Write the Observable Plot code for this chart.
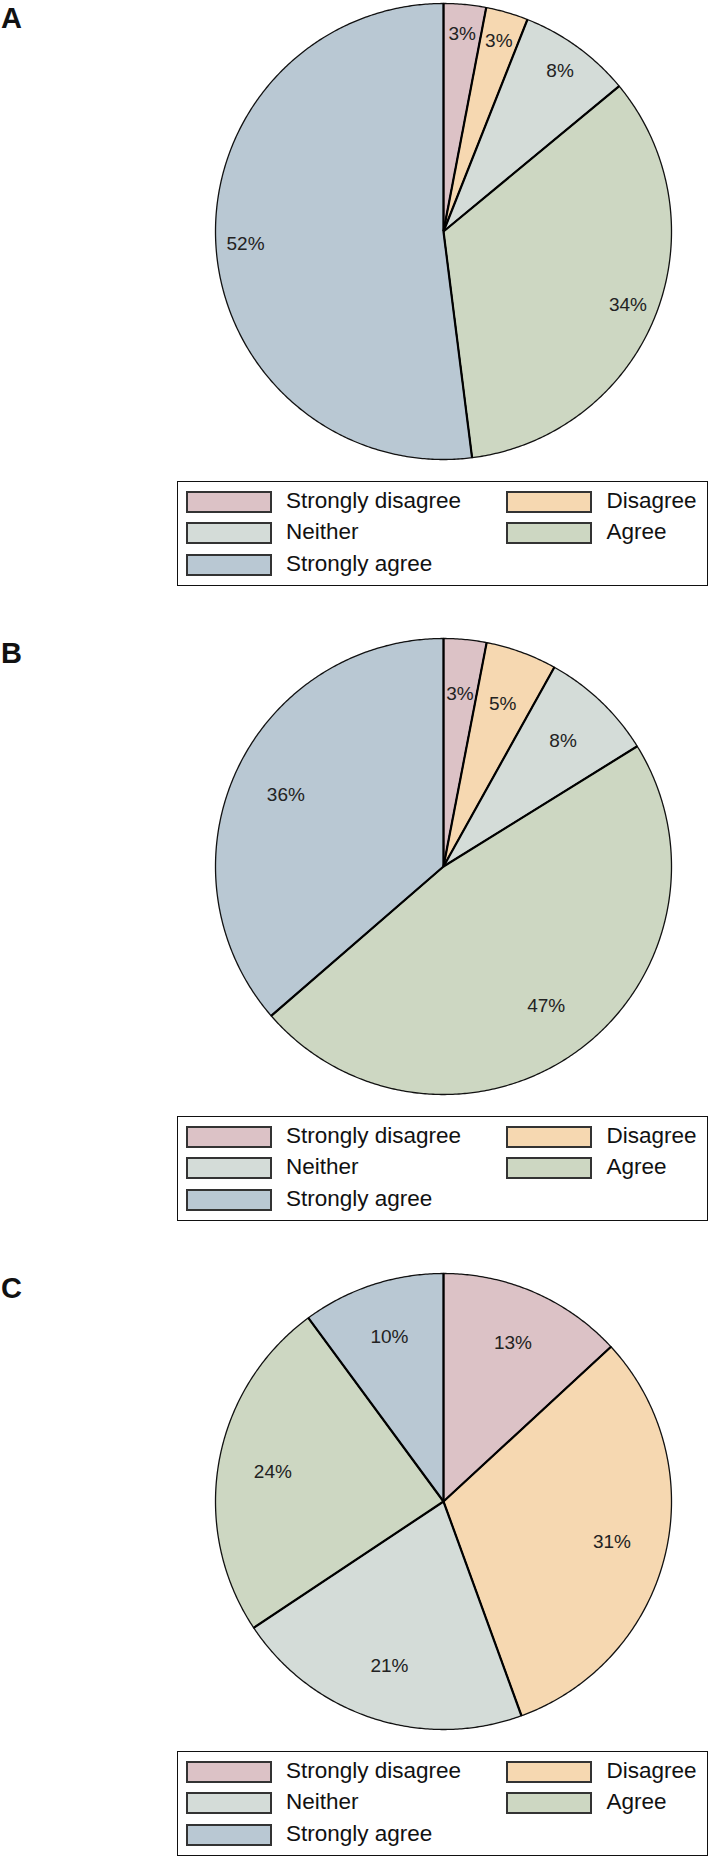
<!DOCTYPE html>
<html><head><meta charset="utf-8">
<script src="https://cdn.jsdelivr.net/npm/d3@7"></script>
<script src="https://cdn.jsdelivr.net/npm/@observablehq/plot@0.6"></script>
<style>
body{margin:0;background:#fff;font-family:"Liberation Sans",Arial,Helvetica,sans-serif;color:#111;}
.panel{position:relative;width:709px;height:635px;overflow:hidden;}
.panel svg{position:absolute;left:0;top:0;}
.lab{position:absolute;left:1px;top:4px;font-weight:bold;font-size:29px;line-height:29px;}
.legend{position:absolute;left:177px;top:481px;width:531px;height:105px;box-sizing:border-box;border:1.5px solid #111;background:#fff;}
.sw{position:absolute;width:86px;height:22px;box-sizing:border-box;border:2px solid #333;}
.lt{position:absolute;font-size:22.5px;line-height:22px;white-space:nowrap;}
</style></head><body><div id="root"></div>
<script>
const categories = ["Strongly disagree", "Disagree", "Neither", "Agree", "Strongly agree"];
const colors = ["#dcc2c6", "#f6d8b1", "#d4dcd8", "#cdd7c2", "#b9c8d3"];
const panelNames = ["A", "B", "C"];
const valuesA = [3, 3, 8, 34, 52];
const valuesB = [3, 5, 8, 47, 36];
const valuesC = [13, 31, 21, 24, 10];
const labelRadius = [0.87, 0.76, 0.76];
const panelValues = [valuesA, valuesB, valuesC];

const root = document.getElementById("root");
const pie = d3.pie().sort(null).value(d => d.value);

panelValues.forEach((vals, p) => {
  const div = document.createElement("div");
  div.className = "panel";
  if (p === 2) div.style.height = "586px";
  root.appendChild(div);

  const data = categories.map((c, i) => ({cat: c, value: vals[i]}));
  const arcs = pie(data);
  const pts = [];
  const labels = [];
  const edges = [];
  arcs.forEach(a => {
    const cat = a.data.cat;
    pts.push({cat, x: 0, y: 0});
    const n = Math.max(4, Math.ceil((a.endAngle - a.startAngle) / (Math.PI / 360)));
    for (let k = 0; k <= n; k++) {
      const t = a.startAngle + (a.endAngle - a.startAngle) * k / n;
      pts.push({cat, x: Math.sin(t), y: Math.cos(t)});
    }
    pts.push({cat, x: 0, y: 0});
    edges.push({x1: 0, y1: 0, x2: Math.sin(a.startAngle), y2: Math.cos(a.startAngle)});
    const m = (a.startAngle + a.endAngle) / 2;
    labels.push({x: labelRadius[p] * Math.sin(m), y: labelRadius[p] * Math.cos(m), text: a.data.value + "%"});
  });

  const chart = Plot.plot({
    width: 709, height: 470,
    marginLeft: 215, marginRight: 38, marginTop: 3, marginBottom: 11,
    x: {domain: [-1, 1], axis: null},
    y: {domain: [-1, 1], axis: null},
    color: {domain: categories, range: colors},
    style: {fontFamily: "Liberation Sans, Arial, sans-serif", background: "transparent", overflow: "visible"},
    marks: [
      Plot.line(pts, {x: "x", y: "y", z: "cat", fill: "cat", stroke: "#111", strokeWidth: 1.3, strokeLinejoin: "round"}),
      Plot.link(edges, {x1: "x1", y1: "y1", x2: "x2", y2: "y2", stroke: "#000", strokeWidth: 2.2}),
      Plot.text(labels, {x: "x", y: "y", text: "text", fontSize: 19, fill: "#222"})
    ]
  });
  div.appendChild(chart);

  const lab = document.createElement("div");
  lab.className = "lab";
  lab.textContent = panelNames[p];
  div.appendChild(lab);

  const leg = document.createElement("div");
  leg.className = "legend";
  const rowTops = [8.5, 40.2, 71.5];
  categories.forEach((c, i) => {
    const col = i % 2, row = Math.floor(i / 2);
    const sw = document.createElement("div");
    sw.className = "sw";
    sw.style.left = (col ? 328 : 8.2) + "px";
    sw.style.top = rowTops[row] + "px";
    sw.style.background = colors[i];
    leg.appendChild(sw);
    const t = document.createElement("div");
    t.className = "lt";
    t.style.left = (col ? 428.5 : 108) + "px";
    t.style.top = (rowTops[row] - 1) + "px";
    t.textContent = c;
    leg.appendChild(t);
  });
  div.appendChild(leg);
});
</script></body></html>
